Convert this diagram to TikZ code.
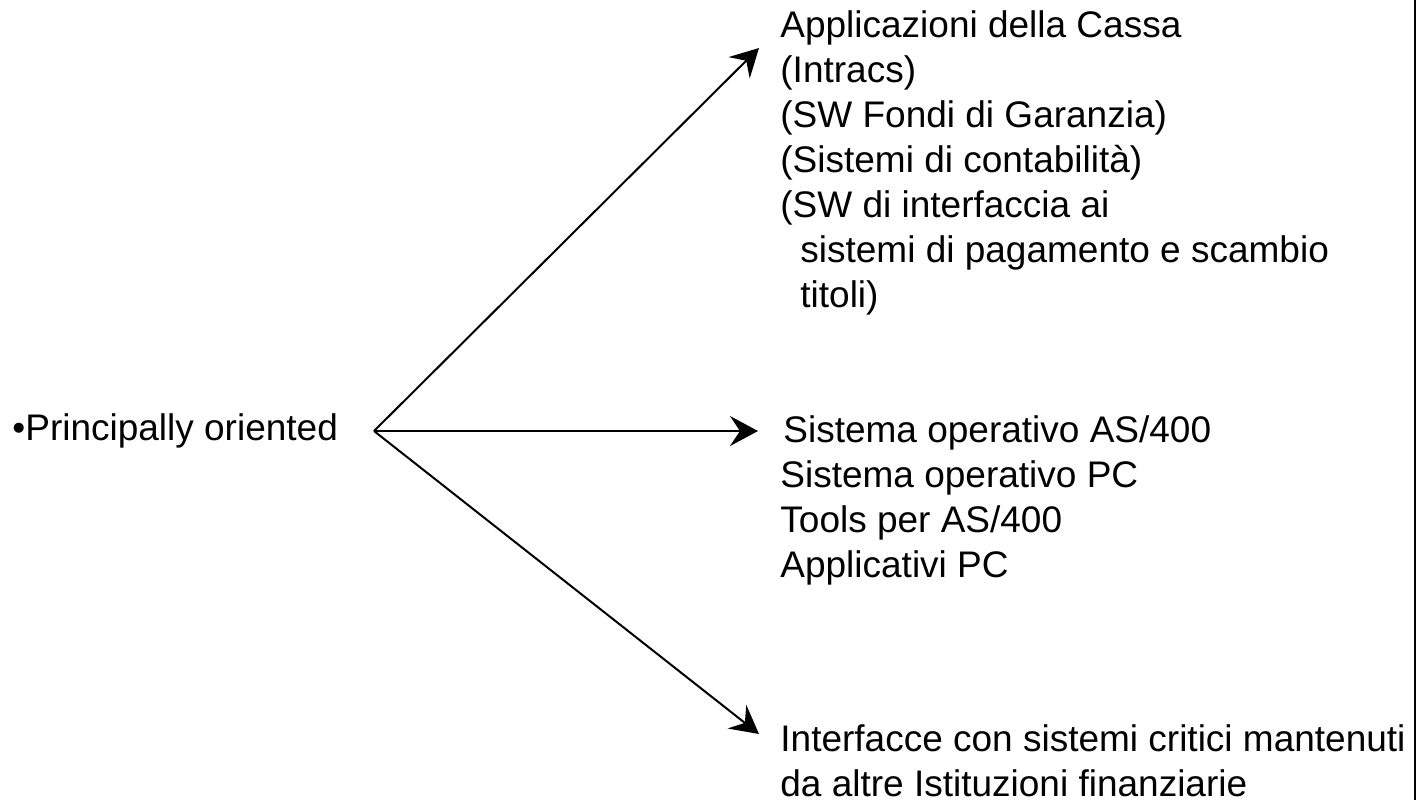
\documentclass[tikz,border=0pt]{standalone}
\usepackage{fontspec}
\setmainfont{Liberation Sans}
\usetikzlibrary{arrows.meta}

\begin{document}
\begin{tikzpicture}[x=0.5pt, y=-0.5pt,
	    every node/.style={inner sep=0pt, align=left, font=\fontsize{18.5}{22.5}\selectfont},
	    branch/.style={line width=1pt, -{Stealth[length=14pt, width=15pt, inset=5pt]}}]

		\useasboundingbox (0,0) rectangle (1426,800);

		\node[anchor=base west] (root) at (12,440) {\textbullet Principally oriented};
		\coordinate (fork) at (374,431);

		\node[anchor=north west] (appl) at (780,10) {Applicazioni della Cassa\\(Intracs)\\(SW Fondi di Garanzia)\\(Sistemi di contabilità)\\(SW di interfaccia ai\\\hspace*{10pt}sistemi di pagamento e scambio\\\hspace*{10pt}titoli)};
		\node[anchor=north west] (sist) at (780,415) {\hspace*{1.5pt}Sistema operativo AS/400\\Sistema operativo PC\\Tools per AS/400\\Applicativi PC};
		\node[anchor=north west] (intf) at (780,724) {Interfacce con sistemi critici mantenuti\\da altre Istituzioni finanziarie};

		\coordinate (tipappl) at (759,48);
		\coordinate (tipsist) at (758,431);
		\coordinate (tipintf) at (759,734);

		\draw[branch] (fork) -- (tipappl);
		\draw[branch] (fork) -- (tipsist);
		\draw[branch] (fork) -- (tipintf);

		% frame edge on the right
		\draw[line width=1pt] (1415,0) -- (1415,800);
\end{tikzpicture}
\end{document}
